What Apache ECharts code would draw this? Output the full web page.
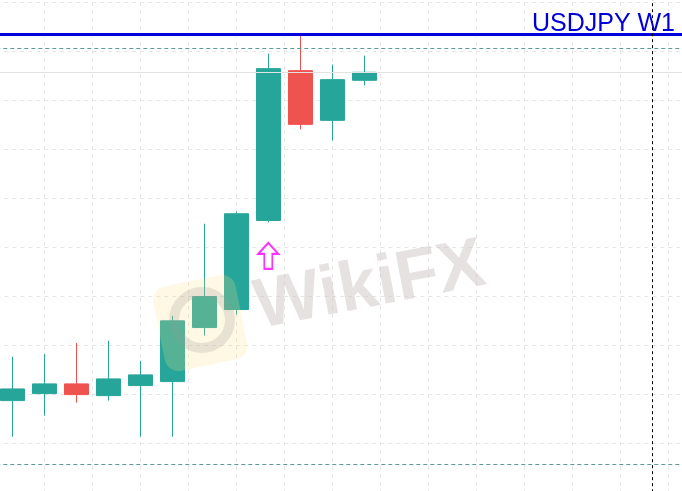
<!DOCTYPE html>
<html>
<head>
<meta charset="utf-8">
<script src="https://cdn.jsdelivr.net/npm/echarts@6/dist/echarts.min.js"></script>
<style>
  html, body { margin: 0; padding: 0; background: #fff; }
  #chart { width: 682px; height: 491px; }
</style>
</head>
<body>
<div id="chart"></div>
<script>
// weekly candles, x = bar index
const barIndex = [0, 1, 2, 3, 4, 5, 6, 7, 8, 9, 10, 11]
const opens  = [114.871, 115.014, 115.213, 114.973, 115.178, 115.260, 116.364, 116.732, 118.552, 121.613, 120.597, 121.415]
const closes = [115.110, 115.213, 114.994, 115.315, 115.397, 116.501, 116.998, 118.689, 121.654, 120.515, 121.429, 121.579]
const lows   = [114.135, 114.564, 114.830, 114.871, 114.135, 114.135, 116.200, 116.630, 118.511, 120.413, 120.188, 121.313]
const highs  = [115.765, 115.826, 116.051, 116.092, 115.683, 116.603, 118.485, 118.730, 121.961, 122.350, 121.736, 121.920]

// chart levels
const highLevel = 122.350
const upperDashed = 122.078
const lowerDashed = 113.571
const lastPrice = 121.579
const cursorBar = 20

// signal arrow
const arrowBar = [8]
const arrowPrice = [117.83]

const candleData = barIndex.map((x, i) => [x, opens[i], closes[i], lows[i], highs[i]])
const arrowData = arrowBar.map((x, i) => [x, arrowPrice[i]])

const chart = echarts.init(document.getElementById('chart'))

const option = {
  backgroundColor: '#ffffff',
  animation: false,
  title: {
    text: 'USDJPY W1',
    right: 2,
    top: 7,
    textStyle: {
      fontFamily: 'Liberation Sans',
      fontWeight: 'normal',
      fontSize: 25,
      color: '#0000d4'
    }
  },
  grid: {
    left: -3.7,
    right: -34.3,
    top: -46.2,
    bottom: -1.2,
    outerBoundsMode: 'none'
  },
  xAxis: [
    {
      type: 'value',
      min: -0.5,
      max: 22,
      axisLine: { show: false },
      axisTick: { show: false },
      axisLabel: { show: false },
      splitLine: { show: false }
    },
    {
      // only used for the vertical grid lines
      type: 'value',
      min: 0,
      max: 720,
      interval: 48,
      position: 'top',
      axisLine: { show: false },
      axisTick: { show: false },
      axisLabel: { show: false },
      splitLine: {
        show: true,
        lineStyle: { color: '#e6e6e6', type: [4, 4], width: 1 }
      }
    }
  ],
  yAxis: {
    type: 'value',
    min: 113,
    max: 124,
    interval: 1,
    axisLine: { show: false },
    axisTick: { show: false },
    axisLabel: { show: false },
    splitLine: {
      show: true,
      lineStyle: { color: '#e6e6e6', type: [4, 4], width: 1 }
    }
  },
  series: [
    {
      type: 'candlestick',
      xAxisIndex: 0,
      barWidth: 25,
      clip: false,
      encode: { x: 0, y: [1, 2, 3, 4] },
      itemStyle: {
        color: '#26a69a',
        color0: '#ef5350',
        borderColor: '#26a69a',
        borderColor0: '#ef5350',
        borderWidth: 1
      },
      markLine: {
        silent: true,
        symbol: 'none',
        label: { show: false },
        animation: false,
        data: [
          { yAxis: lastPrice, lineStyle: { color: '#e2e2e2', type: 'solid', width: 1 } },
          { yAxis: upperDashed, lineStyle: { color: '#5c9c94', type: [4, 3], width: 1 } },
          { yAxis: lowerDashed, lineStyle: { color: '#5c9c94', type: [4, 3], width: 1 } },
          { yAxis: highLevel, lineStyle: { color: '#0000dd', type: 'solid', width: 3 } },
          { xAxis: cursorBar, lineStyle: { color: '#000000', type: [3, 3], width: 1 } }
        ]
      },
      data: candleData
    },
    {
      type: 'scatter',
      xAxisIndex: 0,
      symbol: 'path://M10,0 L20,11 L14,11 L14,26 L6,26 L6,11 L0,11 Z',
      symbolSize: [20, 26],
      itemStyle: {
        color: '#ffffff',
        borderColor: '#ff00ff',
        borderWidth: 2
      },
      z: 5,
      data: arrowData
    }
  ],
  graphic: [
    {
      type: 'rect',
      x: 200, y: 322,
      rotation: 0.2,
      shape: { x: -42, y: -42, width: 84, height: 86, r: 14 },
      style: { fill: 'rgba(255, 222, 130, 0.22)' },
      z: 20,
      silent: true
    },
    {
      type: 'circle',
      shape: { cx: 202, cy: 320, r: 28 },
      style: { fill: 'none', stroke: 'rgba(150, 150, 150, 0.22)', lineWidth: 10 },
      z: 21,
      silent: true
    },
    {
      type: 'text',
      x: 370, y: 287,
      rotation: 0.19,
      style: {
        text: 'WikiFX',
        fontFamily: 'Liberation Sans',
        fontWeight: 'bold',
        fontSize: 70,
        fill: 'rgba(205, 198, 198, 0.5)',
        align: 'center',
        verticalAlign: 'middle'
      },
      z: 20,
      silent: true
    }
  ]
}

chart.setOption(option)
</script>
</body>
</html>
